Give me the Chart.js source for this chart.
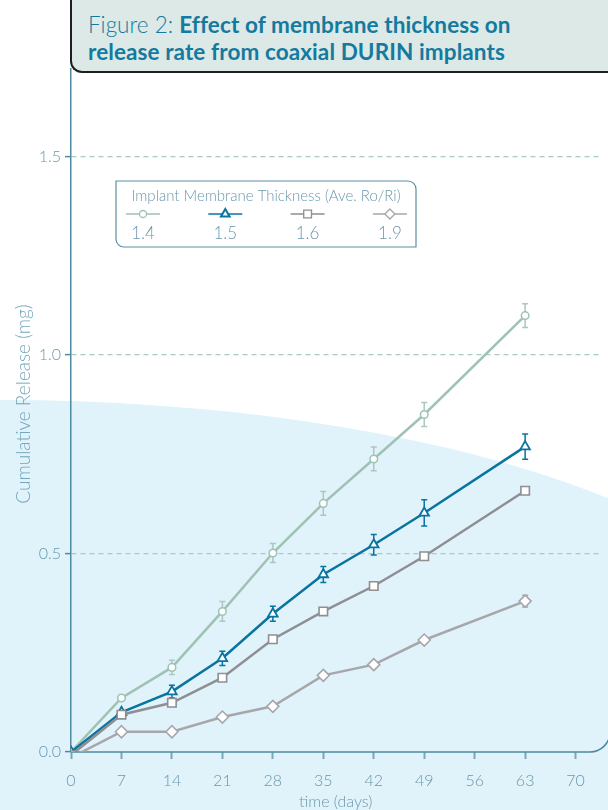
<!DOCTYPE html>
<html>
<head>
<meta charset="utf-8">
<title>Figure 2</title>
<script src="https://cdn.jsdelivr.net/npm/chart.js@4.4.1/dist/chart.umd.min.js"></script>
<style>
  html, body { margin: 0; padding: 0; background: #fff; }
  #wrap { position: relative; width: 608px; height: 810px; overflow: hidden; }
  #chart { position: absolute; left: 0; top: 0; }
  #title {
    position: absolute; left: 70px; top: -4px; width: 560px; height: 77px;
    box-sizing: border-box;
    background: #dce9e6;
    border-left: 2px solid #1e1e1e; border-bottom: 2px solid #1e1e1e;
    border-bottom-left-radius: 12px;
    padding: 16px 0 0 16px;
    font-family: Lato, sans-serif; font-size: 22.5px; line-height: 26.6px;
    color: #147a9f;
  }
  #title .lt { font-weight: 300; }
  #title b { font-weight: 700; letter-spacing: 0.1px; }
</style>
</head>
<body>
<div id="wrap">
  <canvas id="chart" width="608" height="810"></canvas>
  <div id="title"><span class="lt">Figure 2: </span><b>Effect of membrane thickness on<br>release rate from coaxial DURIN implants</b></div>
</div>
<script>
// ---- data ----
const days   = [0, 7, 14, 21, 28, 35, 42, 49, 63];
const xTicks = [0, 7, 14, 21, 28, 35, 42, 49, 56, 63, 70];
const yTicks = [0, 0.5, 1.0, 1.5];
const labels = ['1.4', '1.5', '1.6', '1.9'];

const rel14 = [0.000, 0.136, 0.213, 0.354, 0.501, 0.626, 0.738, 0.850, 1.099];
const err14 = [0, 0.004, 0.018, 0.025, 0.024, 0.030, 0.030, 0.030, 0.030];
const rel15 = [0.000, 0.100, 0.152, 0.236, 0.348, 0.447, 0.522, 0.602, 0.769];
const err15 = [0, 0.004, 0.016, 0.018, 0.019, 0.020, 0.026, 0.033, 0.032];
const rel16 = [-0.008, 0.094, 0.124, 0.187, 0.284, 0.354, 0.418, 0.493, 0.658];
const err16 = [0, 0, 0, 0, 0, 0, 0, 0, 0.004];
const rel19 = [-0.014, 0.051, 0.051, 0.088, 0.115, 0.193, 0.220, 0.282, 0.380];
const err19 = [0, 0, 0, 0, 0, 0, 0, 0, 0.015];

const COLORS = {
  GREEN:  '#9fc2b5',
  GREEN_ERR: '#a9c9be',
  BLUE:   '#0a74a0',
  GRAY:   '#8e8e93',
  GRAY_L: '#a7a7ab',
  TEXT:   '#6a98ad',
  AXIS:   '#4f8aa0',
  GRID:   '#a8cbc2',
  BG:     '#e0f2fa'
};

const pts = vals => days.map((d, i) => ({ x: d, y: vals[i] }));

// ---- decoration plugins ----
const backdrop = {
  id: 'backdrop',
  beforeDraw(chart) {
    const ctx = chart.ctx;
    ctx.save();
    ctx.fillStyle = '#fff';
    ctx.fillRect(0, 0, chart.width, chart.height);
    ctx.beginPath();
    ctx.ellipse(0, 681, 800, 281, 0, Math.PI, 2 * Math.PI);
    ctx.lineTo(800, 810);
    ctx.lineTo(-800, 810);
    ctx.closePath();
    ctx.fillStyle = COLORS.BG;
    ctx.fill();
    ctx.restore();
  },
  afterDraw(chart) {
    // y axis title, placed by hand
    const ctx = chart.ctx;
    ctx.save();
    ctx.translate(24, 404);
    ctx.rotate(-Math.PI / 2);
    ctx.fillStyle = '#74a7bb';
    ctx.font = '300 19px Lato';
    ctx.textAlign = 'center';
    ctx.textBaseline = 'middle';
    ctx.fillText('Cumulative Release (mg)', 0, 0);
    ctx.restore();
  }
};

const axisAndErrors = {
  id: 'axisAndErrors',
  beforeDatasetsDraw(chart) {
    const { ctx, chartArea, scales: { x, y } } = chart;
    // x axis line with rounded corner at the right
    const yb = y.getPixelForValue(0), r = 20;
    ctx.save();
    ctx.strokeStyle = COLORS.AXIS;
    ctx.lineWidth = 1.5;
    ctx.beginPath();
    ctx.moveTo(chartArea.left, yb);
    ctx.lineTo(590, yb);
    ctx.arcTo(590 + r, yb, 590 + r, yb - r, r);
    ctx.stroke();

    // error bars
    chart.data.datasets.forEach(ds => {
      if (!ds.errors) return;
      ctx.strokeStyle = ds.errorColor || ds.borderColor;
      ctx.lineWidth = 1.5;
      ds.data.forEach((p, j) => {
        const e = ds.errors[j];
        if (!e) return;
        const px = x.getPixelForValue(p.x);
        const t = y.getPixelForValue(p.y + e);
        const b = y.getPixelForValue(p.y - e);
        ctx.beginPath();
        ctx.moveTo(px, t); ctx.lineTo(px, b);
        ctx.moveTo(px - 3, t); ctx.lineTo(px + 3, t);
        ctx.moveTo(px - 3, b); ctx.lineTo(px + 3, b);
        ctx.stroke();
      });
    });
    ctx.restore();
  }
};

function marker(ctx, style, x, y, r) {
  ctx.beginPath();
  if (style === 'circle') {
    ctx.arc(x, y, r, 0, 2 * Math.PI);
  } else if (style === 'triangle') {
    ctx.moveTo(x, y - r);
    ctx.lineTo(x + r * 0.866, y + r * 0.5);
    ctx.lineTo(x - r * 0.866, y + r * 0.5);
    ctx.closePath();
  } else if (style === 'rect') {
    const s = r * Math.SQRT1_2;
    ctx.rect(x - s, y - s, 2 * s, 2 * s);
  } else {
    ctx.moveTo(x, y - r); ctx.lineTo(x + r, y);
    ctx.lineTo(x, y + r); ctx.lineTo(x - r, y);
    ctx.closePath();
  }
  ctx.fill();
  ctx.stroke();
}

const legendBox = {
  id: 'legendBox',
  afterDraw(chart) {
    const ctx = chart.ctx;
    const L = 116, T = 181, W = 300, H = 66, r = 8;
    ctx.save();
    ctx.beginPath();
    ctx.moveTo(L, T);
    ctx.lineTo(L + W - r, T);
    ctx.arcTo(L + W, T, L + W, T + r, r);
    ctx.lineTo(L + W, T + H);
    ctx.lineTo(L + r, T + H);
    ctx.arcTo(L, T + H, L, T + H - r, r);
    ctx.closePath();
    ctx.fillStyle = '#fff';
    ctx.fill();
    ctx.strokeStyle = '#5b8fa3';
    ctx.lineWidth = 1.2;
    ctx.stroke();

    ctx.fillStyle = COLORS.TEXT;
    ctx.textAlign = 'center';
    ctx.textBaseline = 'middle';
    ctx.font = '300 15px Lato';
    ctx.fillText('Implant Membrane Thickness (Ave. Ro/Ri)', L + W / 2, T + 15);

    // legend order follows labels
    const byLabel = {};
    chart.data.datasets.forEach(ds => { byLabel[ds.label] = ds; });
    labels.forEach((lab, i) => {
      const ds = byLabel[lab];
      const cx = 143 + i * 82.3, cy = T + 33;
      ctx.strokeStyle = ds.borderColor;
      ctx.lineWidth = 1.3;
      ctx.beginPath();
      ctx.moveTo(cx - 17, cy); ctx.lineTo(cx + 17, cy);
      ctx.stroke();
      ctx.fillStyle = '#fff';
      ctx.lineWidth = ds.pointStyle === 'triangle' ? 2 : 1.3;
      marker(ctx, ds.pointStyle, cx, cy, ds.legendRadius);
      ctx.fillStyle = COLORS.TEXT;
      ctx.font = '300 17px Lato';
      ctx.fillText(lab, cx, T + 53);
    });
    ctx.restore();
  }
};

// ---- chart ----
const ctx = document.getElementById('chart').getContext('2d');
new Chart(ctx, {
  type: 'line',
  data: {
    datasets: [
      {
        label: labels[2], data: pts(rel16), errors: err16,
        borderColor: COLORS.GRAY, borderWidth: 2.5,
        pointStyle: 'rect', pointRadius: 6, legendRadius: 5.5,
        pointBackgroundColor: '#fff', pointBorderColor: COLORS.GRAY, pointBorderWidth: 1.6,
        order: 0
      },
      {
        label: labels[3], data: pts(rel19), errors: err19,
        borderColor: COLORS.GRAY_L, borderWidth: 2.5,
        pointStyle: 'rectRot', pointRadius: 6, legendRadius: 5,
        pointBackgroundColor: '#fff', pointBorderColor: COLORS.GRAY_L, pointBorderWidth: 1.6,
        order: 1
      },
      {
        label: labels[1], data: pts(rel15), errors: err15,
        borderColor: COLORS.BLUE, borderWidth: 2.5,
        pointStyle: 'triangle', pointRadius: 5.5, legendRadius: 5,
        pointBackgroundColor: '#fff', pointBorderColor: COLORS.BLUE, pointBorderWidth: 1.8,
        order: 2
      },
      {
        label: labels[0], data: pts(rel14), errors: err14, errorColor: COLORS.GREEN_ERR,
        borderColor: COLORS.GREEN, borderWidth: 2.5,
        pointStyle: 'circle', pointRadius: 3.8, legendRadius: 3.5,
        pointBackgroundColor: '#fff', pointBorderColor: COLORS.GREEN, pointBorderWidth: 1.5,
        order: 3
      }
    ]
  },
  options: {
    responsive: false,
    animation: false,
    layout: { padding: { top: 69, right: 3, left: 0, bottom: 0 } },
    elements: { line: { tension: 0 } },
    plugins: { legend: { display: false }, tooltip: { enabled: false } },
    scales: {
      x: {
        type: 'linear', min: 0, max: 73.44,
        afterBuildTicks: s => { s.ticks = xTicks.map(v => ({ value: v })); },
        afterFit: s => { s.height = 58; },
        border: { display: false },
        grid: { drawOnChartArea: false, drawTicks: true, tickLength: 7, tickColor: '#7aa8b9', tickWidth: 2 },
        ticks: { color: COLORS.TEXT, font: { family: 'Lato', size: 16, weight: '300' }, padding: 12, maxRotation: 0, autoSkip: false },
        title: { display: true, text: 'time (days)', color: COLORS.TEXT, font: { family: 'Lato', size: 16, weight: '300' }, padding: { top: 0, bottom: -1 } }
      },
      y: {
        min: 0, max: 1.72,
        afterBuildTicks: s => { s.ticks = yTicks.map(v => ({ value: v })); },
        afterFit: s => { s.width = 71; },
        border: { display: true, color: COLORS.AXIS, width: 1.5, dash: [5, 4] },
        grid: {
          color: c => (c.tick && c.tick.value === 0) ? 'rgba(0,0,0,0)' : COLORS.GRID,
          lineWidth: 1.2,
          drawTicks: true, tickLength: 6, tickColor: COLORS.AXIS, tickWidth: 1.5
        },
        ticks: { color: COLORS.TEXT, font: { family: 'Lato', size: 16, weight: '300' }, padding: 4, callback: v => v.toFixed(1) },
        title: { display: false }
      }
    }
  },
  plugins: [backdrop, axisAndErrors, legendBox]
});
</script>
</body>
</html>
